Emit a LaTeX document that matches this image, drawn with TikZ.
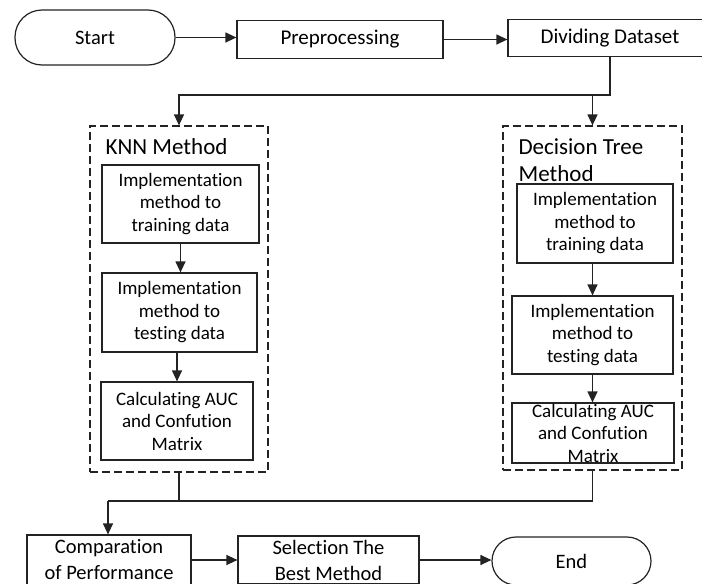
\documentclass[tikz,border=0pt]{standalone}
\usepackage{fontspec}
\setmainfont{Carlito}[Ligatures={NoCommon}]
\usetikzlibrary{arrows.meta}
\definecolor{linec}{RGB}{35,35,35}
\begin{document}
\begin{tikzpicture}[x=1pt,y=-1pt, line width=1.2pt,
  ln/.style={draw=linec},
  box/.style={draw=linec, line width=1.2pt, align=center, inner sep=0pt,
    font=\fontsize{20.5}{26}\selectfont},
  inbox/.style={box, font=\fontsize{19}{22.5}\selectfont},
  term/.style={box, rounded corners=24pt},
  grp/.style={draw=linec, line width=1.2pt, dash pattern=on 8pt off 4pt, inner sep=0pt},
  grplabel/.style={inner sep=0pt, align=left, font=\fontsize{23}{27}\selectfont},
  arr/.style={-{Triangle[length=11pt,width=10pt]}, draw=linec}]
\useasboundingbox (0,0) rectangle (702,584);
\clip (0,0) rectangle (702,584);

% top row
\node[term, rounded corners=27pt, minimum width=160pt, minimum height=55pt] (start) at (95,37.5) {Start};
\node[box, minimum width=206pt, minimum height=38pt, font=\fontsize{21}{26}\selectfont] (pre) at (340,39.5) {Preprocessing};
\node[box, minimum width=204pt, minimum height=37pt, font=\fontsize{21}{26}\selectfont] (div) at (610,38) {Dividing Dataset};

% groups
\node[grp, minimum width=178pt, minimum height=346pt] (knn) at (179,299) {};
\node[grp, minimum width=179pt, minimum height=344pt] (dt) at (592.5,298) {};
\node[grplabel, anchor=west] (knnlabel) at (105,147) {KNN Method};
\node[grplabel, anchor=north west] (dtlabel) at (518,138) {Decision Tree\\Method};

% KNN inner boxes
\node[inbox, minimum width=157pt, minimum height=78pt] (k1) at (180.5,204) {Implementation\\method to\\training data};
\node[inbox, minimum width=155pt, minimum height=79pt] (k2) at (179.5,312.5) {Implementation\\method to\\testing data};
\node[inbox, minimum width=152pt, minimum height=78pt] (k3) at (177,421) {Calculating AUC\\and Confution\\Matrix};

% DT inner boxes
\node[inbox, minimum width=156pt, minimum height=79pt] (d1) at (595,223.5) {Implementation\\method to\\training data};
\node[inbox, minimum width=161pt, minimum height=78pt] (d2) at (592.5,335) {Implementation\\method to\\testing data};
\node[inbox, minimum width=162pt, minimum height=60pt] (d3) at (593,433) {Calculating AUC\\and Confution\\Matrix};

% bottom row
\node[box, minimum width=164pt, minimum height=50pt] (comp) at (109,560) {Comparation\\of Performance};
\node[box, minimum width=181pt, minimum height=48pt] (sel) at (328.5,560) {Selection The\\Best Method};
\node[term, minimum width=159pt, minimum height=48pt] (end) at (571.5,561) {End};

% connectors
\draw[arr] (start.east) -- (start.east -| pre.west);
\draw[arr] (pre.east) -- (pre.east -| div.west);
\coordinate (j1) at (610,95);
\draw[arr] (div.south -| j1) -- (j1) -| (knn.north);
\draw[arr] (dt.north |- j1) -- (dt.north);

\draw[arr] (k1.south) -- (k1.south |- k2.north);
\draw[arr] (k2.south -| k3.north) -- (k3.north);
\draw[arr] (d1.south -| dt.north) -- (dt.north |- d2.north);
\draw[arr] (d2.south -| dt.north) -- (dt.north |- d3.north);

\coordinate (j2) at (108,501);
\draw[ln] (knn.south) -- (knn.south |- j2);
\draw[ln] (dt.south) |- (j2);
\draw[arr] (j2) -- (j2 |- comp.north);
\draw[arr] (comp.east) -- (comp.east -| sel.west);
\draw[arr] (sel.east) -- (sel.east -| end.west);
\end{tikzpicture}
\end{document}
